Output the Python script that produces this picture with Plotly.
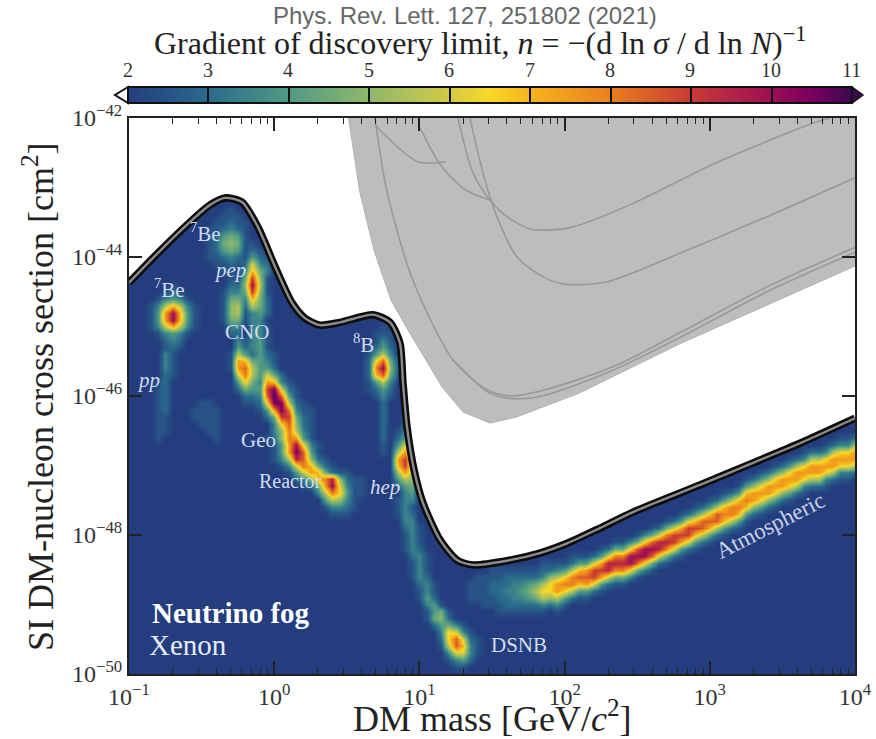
import numpy as np
import plotly.graph_objects as go

SERIF = "Liberation Serif"
# colour scale: gradient n -> colour
CBAR_N = [2, 3, 4, 5, 6, 6.5, 7, 8, 9, 10, 10.5, 11]
CBAR_C = ["#243d7e", "#2a6b8c", "#4f9a85", "#8fb86b", "#d3cb45", "#f8d824", "#f6b41c",
          "#e8801e", "#c93a35", "#9c0f55", "#7a0060", "#3a0a4e"]
CBAR_TICKS = ["2", "3", "4", "5", "6", "7", "8", "9", "10", "11"]
X_TICK_EXP = [-1, 0, 1, 2, 3, 4]
Y_TICK_EXP = [-42, -44, -46, -48, -50]

# Fog limit, log10 mass / log10 cross-section
FOG_LOGM = [-1.00, -0.80, -0.566, -0.442, -0.339, -0.222, -0.112, 0.006, 0.123, 0.212, 0.315, 0.453,
            0.680, 0.798, 0.866, 0.887, 0.915, 0.963, 1.025, 1.142, 1.259, 1.369, 1.603, 1.830,
            2.017, 2.244, 2.471, 2.932, 3.277, 3.621, 4.00]
FOG_LOGS = [-44.37, -43.94, -43.47, -43.25, -43.15, -43.21, -43.57, -44.14, -44.66, -44.88, -44.98, -44.94,
            -44.83, -44.94, -45.24, -45.81, -46.45, -47.06, -47.54, -48.07, -48.36, -48.43, -48.37, -48.26,
            -48.12, -47.90, -47.67, -47.28, -46.98, -46.68, -46.32]

# Excluded region (grey)
EXCL_LOGM = [0.512, 0.591, 0.687, 0.804, 0.921, 1.156, 1.300, 1.486, 1.672, 2.099, 2.802, 3.511, 4.0]
EXCL_LOGS = [-42.00, -43.08, -43.90, -44.62, -45.05, -45.87, -46.23, -46.39, -46.30, -45.96, -45.24, -44.58, -44.13]

LIMITS = [
    ([0.694, 0.770, 0.921, 1.066, 1.231, 1.466, 1.631, 1.865, 2.333, 2.802, 3.394, 4.0],
     [-42.00, -42.99, -44.14, -44.86, -45.48, -45.91, -46.00, -45.91, -45.58, -45.08, -44.43, -43.86]),
    ([1.231, 1.486, 1.672, 1.865, 2.333, 2.802, 3.394, 4.0],
     [-45.48, -45.96, -46.04, -45.99, -45.63, -45.15, -44.50, -43.93]),
    ([0.694, 0.990, 1.183], [-42.10, -42.63, -42.63]),
    ([0.994, 1.156, 1.321, 1.486], [-42.10, -42.71, -43.04, -43.18]),
    ([1.266, 1.369, 1.486, 1.603, 1.769, 1.913, 2.051, 2.450, 3.036, 3.718, 3.828],
     [-42.0, -42.79, -43.18, -43.42, -43.60, -43.61, -43.57, -43.25, -42.65, -42.07, -42.0]),
    ([1.348, 1.438, 1.534, 1.672, 1.865, 2.003, 2.285, 2.802, 3.394, 4.0],
     [-42.0, -42.79, -43.42, -44.0, -44.30, -44.39, -44.36, -43.94, -43.42, -42.86]),
]

# Gradient map on a lattice of 0.05 dex (mass) by 0.1 dex (cross-section).
# Each character is a value: '.'=2, '1'=2.5, '2'=3 ... '9'=6.5, 'a'=7 ... 'i'=11.
# Each patch is (first column, first row, rows of characters).
BE7_LOW = (0, 24, ["......1", ".....121", "....13431", "...137a731", "...14bga41", "...14bga41", "...137a731",
                   "....13431", ".....232", ".....121"])
PP = (3, 34, ["..31.", "..31.", "..31.", "..21.", ".12..", ".12..", ".12..", ".12..", ".12..", ".11..", ".11..", ".11..", ".1..."])
BE7_HIGH = (10, 13, ["....1....", "...111...", "..11211..", ".112321..", ".124541..", ".125651..", ".124541..",
                     ".112321..", "..11211..", "...111..."])
PEP = (14, 18, ["...1", "...21", "..1421", "..2832", "..3a53", ".15e61", ".16g71", ".15e61", "..3a52", "..2752",
                "..1342", "...33", "...331", "...331", "...341", "...341", "...2421", "...1431", "...1442", "....4531", "....3642", "....3642"])
CNO_HIGH = (13, 22, [".1", ".11", ".22", "1331", "1551", "1671", "1671", "1551", ".33", ".22"])
CNO_LOW = (14, 31, [".2", ".31", ".42", "1741", "1ba51", "1bd71", ".8c71", ".4951", ".2541", "..22", "..1"])
GEO_REACTOR = (17, 37, [".2852", ".3ba31", "14eh821", "13did41", "129hh721", ".14bhc311", "..25ee521", "...39d621", "...36c731",
                        "..126cb41", "...14bg931", "...14bhd41", "...137fd621", "....138ca521", ".....148ba5211",
                        "......236acf6211", ".......125bg8311", ".........37c9411", "..........47631", "..........13321",
                        "...........111."])
B8 = (32, 30, ["...1", "..111", "..131", ".1242", ".1473", ".29d51", ".2cg61", ".2ad51", ".1473", ".1242", "..131",
               "...2", "...2", "...2", "...2", "...2", "...2", "...1", "...1"])
HEP = (36, 43, ["..1", "..21", ".131", ".242", ".484", ".7b5", ".be7", ".ae7", ".7b7", ".476", ".245", "..34", "..33"])
DSNB = (37, 55, ["131", "131", "132", ".33", ".231", ".131", ".131", ".132", "..231", "..131", "..131", "..132", "...231",
                 "...131", "...142", "....341", "....1451", "....1562", ".....24531", "......39831", "......29d821",
                 "......17da31", ".......38831", ".......1342", "........11"])
HAZE = (8, 41, ["..11", ".1111", ".1111", "..111", "...11", "....1"])
# Atmospheric ridge, stored by column: (column, first row, values going down)
ATMOS = [(47, 67, "111"), (48, 66, "1111"), (49, 66, "11111"), (50, 65, "112211"), (51, 65, "1122211"), (52, 65, "1223221"),
         (53, 65, "1233321"), (54, 65, "1234321"), (55, 65, "1245421"), (56, 65, "1257521"), (57, 64, "12379731"),
         (58, 64, "1269962"), (59, 64, "137bb731"), (60, 64, "149c941"), (61, 63, "127cc72"), (62, 63, "14ada41"),
         (63, 63, "14bdb41"), (64, 63, "28ee82"), (65, 62, "14beb41"), (66, 62, "28ff82"), (67, 61, "15cfc51"),
         (68, 61, "15cfc51"), (69, 61, "39gg93"), (70, 60, "15dgd51"), (71, 60, "39gg93"), (72, 59, "15dgd51"),
         (73, 59, "28ff82"), (74, 58, "15cfc51"), (75, 58, "28ee82"), (76, 57, "14beb41"), (77, 57, "28ee82"),
         (78, 56, "14aea41"), (79, 56, "27dd72"), (80, 55, "14ada41"), (81, 55, "27dd72"), (82, 54, "14aca41"),
         (83, 54, "27cc72"), (84, 53, "14aca41"), (85, 52, "14aca41"), (86, 52, "26bb62"), (87, 51, "149b941"),
         (88, 51, "26bb62"), (89, 50, "149b941"), (90, 50, "26bb62"), (91, 49, "149b941"), (92, 49, "27bb72"),
         (93, 48, "139b931"), (94, 48, "27bb72"), (95, 48, "27bb72"), (96, 47, "139b931"), (97, 47, "27bb72"),
         (98, 46, "139b931"), (99, 46, "139b931"), (100, 46, "27bb72")]

LABELS = ["<i>pp</i>", "<sup>7</sup>Be", "<sup>7</sup>Be", "<i>pep</i>", "CNO", "<sup>8</sup>B", "Geo", "Reactor",
          "<i>hep</i>", "DSNB"]
LABEL_LOGM = [-0.869, -0.718, -0.47, -0.304, -0.187, 0.618, -0.105, 0.109, 0.763, 1.686]
LABEL_LOGS = [-45.77, -44.45, -43.65, -44.19, -45.08, -45.24, -46.63, -47.22, -47.31, -49.58]

CODES = ".123456789abcdefghi"
NCOL, NROW = 101, 81
field = np.full((NROW, NCOL), 2.0)
def put(i, j, ch):
    if ch != "." and 0 <= i < NCOL and 0 <= j < NROW:
        field[j, i] = max(field[j, i], 2 + CODES.index(ch) / 2)
for i0, j0, rows in [BE7_LOW, PP, BE7_HIGH, PEP, CNO_HIGH, CNO_LOW, GEO_REACTOR, B8, HEP, DSNB, HAZE]:
    for dj, row in enumerate(rows):
        for di, ch in enumerate(row):
            put(i0 + di, j0 + dj, ch)
for i, j0, col in ATMOS:
    for dj, ch in enumerate(col):
        put(i, j0 + dj, ch)

mass = 10 ** (-1 + 0.05 * np.arange(NCOL))
sigma = 10 ** (-42 - 0.1 * np.arange(NROW))

W, H = 876, 739
L, R, T, B = 129, 855, 118, 674
def px(v): return (v - L) / (R - L)
def py(v): return (B - v) / (B - T)

fig = go.Figure()
scale = [[(n - 2) / 9, c] for n, c in zip(CBAR_N, CBAR_C)]
fig.add_trace(go.Heatmap(
    x=mass, y=sigma, z=field, zmin=2, zmax=11, zsmooth="best", colorscale=scale, hoverinfo="skip",
    colorbar=dict(orientation="h", x=px(128), xanchor="left", xpad=0, y=py(121), yanchor="bottom", ypad=0,
                  lenmode="pixels", len=724, thicknessmode="pixels", thickness=16,
                  tick0=2, dtick=1, ticks="inside", ticklen=16, tickwidth=1.5, tickcolor="#111",
                  showticklabels=False, outlinecolor="#111", outlinewidth=2)))
fx = 10 ** np.array(FOG_LOGM)
fy = 10 ** np.array(FOG_LOGS)
fig.add_trace(go.Scatter(x=list(fx) + [1e4, 0.1], y=list(fy) + [1e-42, 1e-42], mode="lines", fill="toself",
                         fillcolor="white", line=dict(width=0, color="white"), hoverinfo="skip"))
ex = 10 ** np.array(EXCL_LOGM)
ey = 10 ** np.array(EXCL_LOGS)
fig.add_trace(go.Scatter(x=list(ex) + [1e4, 10 ** EXCL_LOGM[0]], y=list(ey) + [1e-42, 1e-42], mode="lines",
                         fill="toself", fillcolor="#bdbdbd", line=dict(width=1, color="#b0b0b0"), hoverinfo="skip"))
for lm, ls in LIMITS:
    fig.add_trace(go.Scatter(x=10 ** np.array(lm), y=10 ** np.array(ls), mode="lines",
                             line=dict(color="#999999", width=1.6, shape="spline", smoothing=0.8), hoverinfo="skip"))
fig.add_trace(go.Scatter(x=fx, y=fy, mode="lines", line=dict(color="#0c0c0c", width=7.5, shape="spline", smoothing=0.7),
                         hoverinfo="skip"))
fig.add_trace(go.Scatter(x=fx, y=fy, mode="lines", line=dict(color="#8c8c8c", width=2.4, shape="spline", smoothing=0.7),
                         hoverinfo="skip"))

ann = [dict(x=a, y=b, xref="x", yref="y", text=t, showarrow=False,
            font=dict(family=SERIF, size=20 if t == "Reactor" else 21, color="#d3dcef"))
       for t, a, b in zip(LABELS, LABEL_LOGM, LABEL_LOGS)]
ann.append(dict(x=3.42, y=-47.87, xref="x", yref="y", text="Atmospheric", showarrow=False, textangle=-27,
                font=dict(family=SERIF, size=23, color="#c9d3e8")))
ann.append(dict(x=-0.298, y=-49.12, xref="x", yref="y", text="<b>Neutrino fog</b>", showarrow=False,
                font=dict(family=SERIF, size=29, color="white")))
ann.append(dict(x=-0.594, y=-49.58, xref="x", yref="y", text="Xenon", showarrow=False,
                font=dict(family=SERIF, size=29, color="#e6ebf5")))
# colour-bar labels and figure texts
def page_text(x, y, text, family, size, color, angle=0):
    ann.append(dict(x=px(x), y=py(y), xref="paper", yref="paper", xanchor="center", yanchor="middle",
                    showarrow=False, text=text, textangle=angle, font=dict(family=family, size=size, color=color)))
for k, t in enumerate(CBAR_TICKS):
    page_text(127.5 + 80.4 * k, 70, t, SERIF, 20, "#333")
page_text(480, 41, "Gradient of discovery limit, <i>n</i> = \u2212(d ln <i>\u03c3</i> / d ln <i>N</i>)<sup>\u22121</sup>",
          SERIF, 32, "#222")
page_text(465, 15, "Phys. Rev. Lett. 127, 251802 (2021)", "Liberation Sans", 24, "#666")
page_text(492, 716, "DM mass [GeV/<i>c</i><sup>2</sup>]", SERIF, 36, "#222")
page_text(38, 397, "SI DM-nucleon cross section [cm<sup>2</sup>]", SERIF, 36, "#222", -90)

shapes = [
    dict(type="path", xref="paper", yref="paper", layer="above",
         path=f"M {px(128)} {py(87)} L {px(115)} {py(95)} L {px(128)} {py(103)} Z",
         fillcolor="white", line=dict(color="#111", width=2)),
    dict(type="path", xref="paper", yref="paper", layer="above",
         path=f"M {px(852)} {py(87)} L {px(863)} {py(95)} L {px(852)} {py(103)} Z",
         fillcolor="#3a0a4e", line=dict(color="#111", width=1.5)),
]

def labels(exps):
    return ["10<sup>" + str(e).replace("-", "\u2212") + "</sup>" for e in exps]

axis = dict(type="log", showgrid=False, zeroline=False, showline=True, linecolor="#222", linewidth=2,
            mirror="ticks", ticks="inside", ticklen=13, tickwidth=1.5, tickcolor="#222", tickmode="array",
            tickfont=dict(family=SERIF, size=24, color="#333"))
fig.update_layout(
    width=W, height=H, autosize=False, showlegend=False, paper_bgcolor="white", plot_bgcolor="white",
    margin=dict(l=L, r=W - R, t=T, b=H - B, autoexpand=False),
    xaxis=dict(axis, range=[-1, 4], tickvals=[10.0 ** e for e in X_TICK_EXP], ticktext=labels(X_TICK_EXP),
               minor=dict(ticks="inside", ticklen=6, tickwidth=1, tickcolor="#222", dtick="D1")),
    yaxis=dict(axis, range=[-50, -42], tickvals=[10.0 ** e for e in Y_TICK_EXP], ticktext=labels(Y_TICK_EXP)),
    annotations=ann, shapes=shapes)
fig.write_html("out.html", post_script="document.body.style.margin='0';", config={"displayModeBar": False})
